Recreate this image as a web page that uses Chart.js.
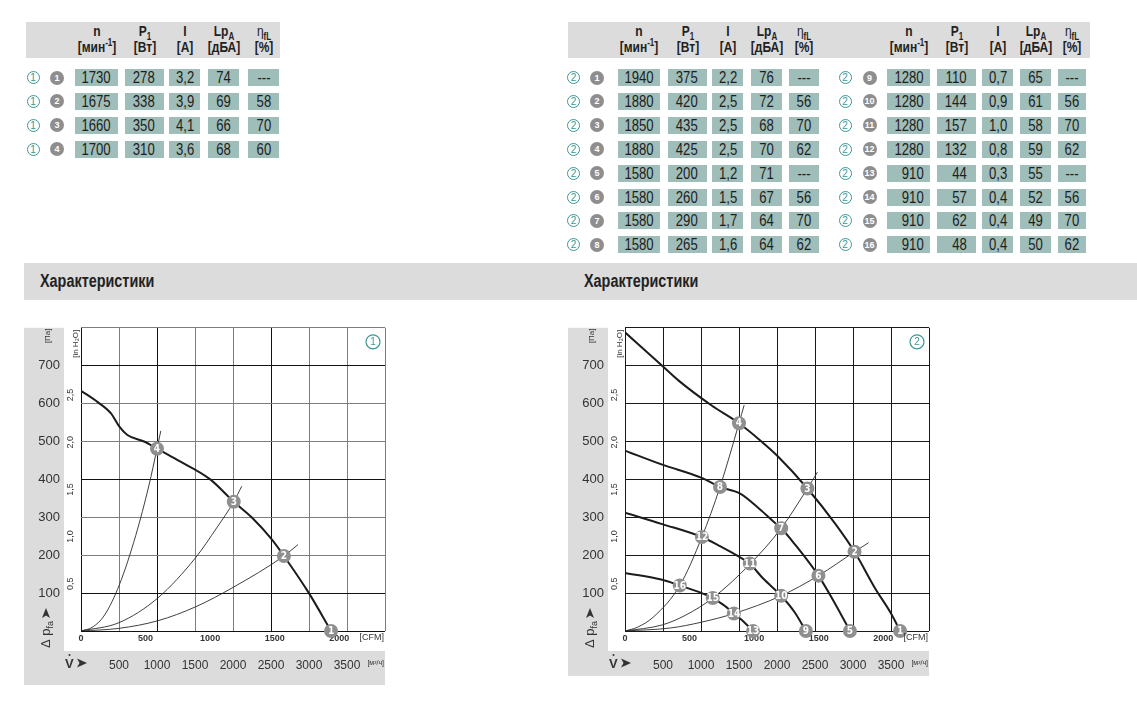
<!DOCTYPE html>
<html lang="ru">
<head>
<meta charset="UTF-8">
<title>Характеристики</title>
<style>
    body { margin: 0; background: #fff; color: #222; font-family: "Liberation Sans", Arial, sans-serif; }
    #page { position: relative; width: 1137px; height: 702px; overflow: hidden; }
    .band { position: absolute; background: #dcdcdd; }
    .hdr { position: absolute; width: 60px; text-align: center; font-weight: bold; font-size: 15px; line-height: 16px;
           transform: scaleX(0.8); transform-origin: center; }
    .hdr sub, .hdr sup { font-size: 10px; line-height: 0; }
    .hdr .eta { font-weight: normal; }
    .cell { position: absolute; height: 17px; background: #9fbdb9; font-size: 16px; line-height: 18px;
            box-sizing: border-box; text-align: right; color: #1e1e1e; }
    .cell span { display: inline-block; transform: scaleX(0.82); transform-origin: right center; }
    .cell.c span { transform-origin: center; }
    .ring { position: absolute; width: 13px; height: 13px; border: 1.3px solid #3d9994; border-radius: 50%;
            color: #3d9994; font-size: 10px; line-height: 11px; text-align: center; box-sizing: border-box; }
    .dot { position: absolute; width: 14px; height: 14px; border-radius: 50%; background: #8e8e8e; color: #fff;
           font-weight: bold; font-size: 9px; line-height: 14px; text-align: center; }
    .title { position: absolute; font-weight: bold; font-size: 18px; transform: scaleX(0.8); transform-origin: left center; }
    canvas { position: absolute; }
</style>
<script src="https://cdn.jsdelivr.net/npm/chart.js@4.4.0/dist/chart.umd.min.js"></script>
</head>
<body>
<div id="page">
    <div class="band" style="left:24px;top:263px;width:1113px;height:37px"></div>
    <div class="title" style="left:40px;top:271px">Характеристики</div>
    <div class="title" style="left:584px;top:271px">Характеристики</div>
    <canvas id="chart1" width="368" height="372" style="left:24px;top:316px"></canvas>
    <canvas id="chart2" width="368" height="372" style="left:568px;top:316px"></canvas>
</div>
<script>
    const FONT = '"DejaVu Sans Condensed", "Liberation Sans", Arial, sans-serif';
    const AXFONT = '"Liberation Sans", Arial, sans-serif';
    const PA_PER_INH2O = 249.09;
    const M3H_PER_CFM = 1.699;

    // --- tables ---
    const t1Rows = [
        ['1730', '278', '3,2', '74', '---'],
        ['1675', '338', '3,9', '69', '58'],
        ['1660', '350', '4,1', '66', '70'],
        ['1700', '310', '3,6', '68', '60']
    ];
    const t2RowsA = [
        ['1940', '375', '2,2', '76', '---'],
        ['1880', '420', '2,5', '72', '56'],
        ['1850', '435', '2,5', '68', '70'],
        ['1880', '425', '2,5', '70', '62'],
        ['1580', '200', '1,2', '71', '---'],
        ['1580', '260', '1,5', '67', '56'],
        ['1580', '290', '1,7', '64', '70'],
        ['1580', '265', '1,6', '64', '62']
    ];
    const t2RowsB = [
        ['1280', '110', '0,7', '65', '---'],
        ['1280', '144', '0,9', '61', '56'],
        ['1280', '157', '1,0', '58', '70'],
        ['1280', '132', '0,8', '59', '62'],
        ['910', '44', '0,3', '55', '---'],
        ['910', '57', '0,4', '52', '56'],
        ['910', '62', '0,4', '49', '70'],
        ['910', '48', '0,4', '50', '62']
    ];
    const headers = ['n<br>[мин<sup>-1</sup>]', 'P<sub>1</sub><br>[Вт]', 'I<br>[A]', 'Lp<sub>A</sub><br>[дБА]',
                     '<span class="eta">η</span><sub>fL</sub><br>[%]'];

    // --- chart 1 (x: m³/h, y: Pa) ---
    const c1Curve = [[0, 634], [220, 604], [395, 574], [505, 539], [610, 517], [830, 500], [1000, 481],
                     [1260, 452], [1700, 400], [2010, 341], [2245, 300], [2505, 243], [2670, 198],
                     [3005, 98], [3290, 0]];
    const c1SysA = [[0, 0], [150, 10], [310, 42], [505, 122], [720, 252], [895, 385], [1000, 481], [1050, 528]];
    const c1SysB = [[0, 0], [500, 22], [1010, 87], [1510, 194], [1785, 272], [2010, 341], [2115, 382]];
    const c1SysC = [[0, 0], [500, 7], [1010, 27], [1510, 64], [2000, 115], [2670, 198], [2855, 228]];
    const c1Points = [[3290, 0], [2670, 198], [2010, 341], [1000, 481]];

    // --- chart 2 ---
    const c2CurveA = [[0, 788], [500, 698], [710, 660], [1140, 595], [1500, 548], [1795, 500], [2010, 461],
                      [2400, 376], [2770, 282], [3020, 209], [3290, 113], [3510, 43], [3620, 0]];
    const c2CurveB = [[0, 476], [490, 439], [1010, 404], [1250, 380], [1510, 363], [1770, 322], [1990, 282],
                      [2055, 271], [2230, 230], [2545, 146], [2770, 70], [2960, 0]];
    const c2CurveC = [[0, 312], [490, 282], [1010, 248], [1250, 224], [1500, 196], [1640, 178], [1815, 139],
                      [2055, 93], [2230, 50], [2380, 0]];
    const c2CurveD = [[0, 153], [490, 135], [720, 120], [1010, 100], [1155, 87], [1295, 69], [1435, 46],
                      [1575, 22], [1685, 0]];
    const c2SysA = [[0, 0], [165, 10], [380, 38], [721, 120], [1012, 248], [1250, 380], [1500, 548], [1568, 596]];
    const c2SysB = [[0, 0], [490, 16], [800, 42], [1155, 87], [1642, 176], [2055, 271], [2400, 376], [2532, 419]];
    const c2SysC = [[0, 0], [600, 8], [1000, 23], [1433, 46], [2055, 93], [2545, 146], [3020, 209], [3205, 233]];
    const c2Points = [[3620, 0], [3020, 209], [2400, 376], [1500, 548], [2960, 0], [2545, 146], [2055, 271],
                      [1250, 380], [2380, 0], [2055, 93], [1642, 178], [1012, 248], [1685, 0], [1433, 46],
                      [1155, 87], [721, 120]];

    // axis ticks
    const m3hTicks = [0, 500, 1000, 1500, 2000, 2500, 3000, 3500, 4000];
    const paTicks = [0, 100, 200, 300, 400, 500, 600, 700, 800];
    const cfmTicks = [0, 500, 1000, 1500, 2000];
    const inH2OTicks = [0.5, 1, 1.5, 2, 2.5];

    const page = document.getElementById('page');

    function add(cls, css, html) {
        const d = document.createElement('div');
        d.className = cls;
        d.style.cssText = css;
        d.innerHTML = html;
        page.appendChild(d);
    }

    // cols: [left, width, rightPad]
    function buildTable(rows, cols, ringX, dotX, ringNo, firstNo) {
        cols.forEach((c, i) => add('hdr', `left:${c[0] + c[1] / 2 - 30}px;top:23px`, headers[i]));
        rows.forEach((r, ri) => {
            const top = 69 + ri * 23.9;
            add('ring', `left:${ringX - 6.5}px;top:${top + 2}px`, ringNo);
            add('dot', `left:${dotX - 7}px;top:${top + 1.5}px`, String(firstNo + ri));
            r.forEach((v, ci) => {
                const c = cols[ci];
                if (ci === 4) {
                    add('cell c', `left:${c[0]}px;top:${top}px;width:${c[1]}px;text-align:center`, `<span>${v}</span>`);
                } else {
                    add('cell', `left:${c[0]}px;top:${top}px;width:${c[1]}px;padding-right:${c[2]}px`, `<span>${v}</span>`);
                }
            });
        });
    }

    add('band', 'left:26px;top:22px;width:254px;height:36px', '');
    add('band', 'left:568px;top:22px;width:522px;height:36px', '');
    buildTable(t1Rows, [[75, 43, 7], [125, 39, 9], [169, 31, 6], [208, 31, 8], [248, 31, 0]], 33, 57, '1', 1);
    buildTable(t2RowsA, [[618, 42, 6], [668, 39, 9], [712, 31, 6], [751, 31, 8], [789, 30, 0]], 573.5, 597, '2', 1);
    buildTable(t2RowsB, [[887, 43, 6], [937, 39, 9], [982, 31, 6], [1020, 31, 8], [1058, 28, 0]], 845, 869.5, '2', 9);

    const toXY = arr => arr.map(p => ({ x: p[0], y: p[1] }));

    function makeChart(id, cfg) {
        const datasets = [{
            data: toXY(cfg.points),
            showLine: false,
            pointRadius: 7,
            pointBackgroundColor: '#8f8f8f',
            pointBorderColor: '#8f8f8f',
            pointBorderWidth: 0,
            clip: false
        }];
        cfg.curves.forEach(c => datasets.push({
            data: toXY(c), borderColor: '#1c1c1c', borderWidth: 2, pointRadius: 0,
            cubicInterpolationMode: 'monotone'
        }));
        cfg.systems.forEach(c => datasets.push({
            data: toXY(c), borderColor: '#2a2a2a', borderWidth: 0.9, pointRadius: 0,
            cubicInterpolationMode: 'monotone'
        }));

        const decor = {
            id: 'decor' + id,
            beforeDraw(chart) {
                const ctx = chart.ctx, a = chart.chartArea;
                ctx.save();
                ctx.fillStyle = '#dcdcdd';
                ctx.fillRect(0, a.top, 40, cfg.bandTop - a.top);
                ctx.fillRect(0, cfg.bandTop, a.right, cfg.bandH);
                ctx.restore();
            },
            afterDatasetsDraw(chart) {
                const ctx = chart.ctx;
                const meta = chart.getDatasetMeta(0);
                ctx.save();
                ctx.fillStyle = '#fff';
                ctx.font = 'bold 10px ' + FONT;
                ctx.textAlign = 'center';
                ctx.textBaseline = 'middle';
                meta.data.forEach((el, i) => ctx.fillText(String(i + 1), el.x, el.y + 0.5));
                ctx.restore();
            },
            afterDraw(chart) {
                const ctx = chart.ctx, a = chart.chartArea;
                const yIn = chart.scales.yIn;
                ctx.save();
                ctx.fillStyle = '#333';
                // in H2O tick labels
                ctx.font = '9px ' + AXFONT;
                ctx.textAlign = 'center';
                ctx.textBaseline = 'middle';
                inH2OTicks.forEach(v => {
                    ctx.save();
                    ctx.translate(a.left - 10, yIn.getPixelForValue(v));
                    ctx.rotate(-Math.PI / 2);
                    ctx.fillText(v.toFixed(1).replace('.', ','), 0, 0);
                    ctx.restore();
                });
                // unit labels rotated
                ctx.font = '8px ' + AXFONT;
                ctx.save();
                ctx.translate(a.left - 5, a.top + 16);
                ctx.rotate(-Math.PI / 2);
                ctx.fillText('[in H₂O]', 0, 0);
                ctx.restore();
                ctx.save();
                ctx.translate(24, a.top + 8);
                ctx.rotate(-Math.PI / 2);
                ctx.fillText('[Па]', 0, 0);
                ctx.restore();
                // Δ p_fa ➤
                ctx.save();
                ctx.translate(22, cfg.bandTop - 3);
                ctx.rotate(-Math.PI / 2);
                ctx.textAlign = 'left';
                ctx.textBaseline = 'alphabetic';
                ctx.font = '13px ' + AXFONT;
                ctx.fillText('Δ p', 0, 4);
                let w = ctx.measureText('Δ p').width;
                ctx.font = '9px ' + AXFONT;
                ctx.fillText('fa', w, 7);
                w += ctx.measureText('fa').width + 3;
                ctx.beginPath();
                ctx.moveTo(w, -4); ctx.lineTo(w + 10, 0); ctx.lineTo(w, 4); ctx.lineTo(w + 2.5, 0);
                ctx.closePath();
                ctx.fill();
                ctx.restore();
                // V̇ ➤
                const vy = cfg.bandTop + 12;
                ctx.font = 'bold 13px ' + AXFONT;
                ctx.textAlign = 'left';
                ctx.textBaseline = 'middle';
                ctx.fillText('V', 41, vy + 1);
                ctx.beginPath();
                ctx.arc(45.5, vy - 8, 1, 0, Math.PI * 2);
                ctx.fill();
                ctx.beginPath();
                ctx.moveTo(53, vy - 4.5); ctx.lineTo(63, vy); ctx.lineTo(53, vy + 4.5); ctx.lineTo(55.5, vy);
                ctx.closePath();
                ctx.fill();
                // units
                ctx.font = '9px ' + AXFONT;
                ctx.textAlign = 'right';
                ctx.fillText('[CFM]', a.right - 1, a.bottom + 7);
                ctx.font = '7px ' + AXFONT;
                ctx.fillText('[м³/ч]', a.right - 1, vy);
                // panel number
                ctx.strokeStyle = '#3d9994';
                ctx.fillStyle = '#3d9994';
                ctx.lineWidth = 1.2;
                ctx.beginPath();
                ctx.arc(a.right - 12, a.top + 14, 7, 0, Math.PI * 2);
                ctx.stroke();
                ctx.font = '10px ' + AXFONT;
                ctx.textAlign = 'center';
                ctx.fillText(cfg.panel, a.right - 12, a.top + 14.5);
                ctx.restore();
            }
        };

        return new Chart(document.getElementById(id), {
            type: 'line',
            data: { datasets },
            plugins: [decor],
            options: {
                responsive: false,
                animation: false,
                layout: { padding: { top: 8, right: 4, bottom: 0, left: 0 } },
                plugins: { legend: { display: false }, tooltip: { enabled: false } },
                scales: {
                    x: {
                        type: 'linear', position: 'bottom', min: 0, max: 4000, weight: 2,
                        afterBuildTicks: s => { s.ticks = m3hTicks.map(v => ({ value: v })); },
                        afterFit: s => { s.height = 36; },
                        ticks: {
                            callback: v => (v > 0 && v < 4000) ? String(v) : '',
                            font: { family: AXFONT, size: 12 }, color: '#333', padding: 6, maxRotation: 0
                        },
                        grid: { color: c => cfg.gridX(c.tick.value), lineWidth: 1, drawTicks: false },
                        border: { display: false }
                    },
                    xCfm: {
                        type: 'linear', position: 'bottom', min: 0, max: 4000 / M3H_PER_CFM, weight: 1,
                        afterBuildTicks: s => { s.ticks = cfmTicks.map(v => ({ value: v })); },
                        afterFit: s => { s.height = 21; },
                        ticks: {
                            callback: v => String(v),
                            font: { family: AXFONT, size: 9, weight: 'bold' }, color: '#333', padding: 2, maxRotation: 0
                        },
                        grid: { display: false, drawTicks: false },
                        border: { display: false }
                    },
                    y: {
                        type: 'linear', position: 'left', min: 0, max: 800, weight: 2,
                        afterBuildTicks: s => { s.ticks = paTicks.map(v => ({ value: v })); },
                        afterFit: s => { s.width = 40; },
                        ticks: {
                            callback: v => (v > 0 && v < 800) ? String(v) : '',
                            font: { family: AXFONT, size: 13 }, color: '#333', padding: 4
                        },
                        grid: { color: c => cfg.gridY(c.tick.value), lineWidth: 1, drawTicks: false },
                        border: { display: false }
                    },
                    yIn: {
                        type: 'linear', position: 'left', min: 0, max: 800 / PA_PER_INH2O, weight: 1,
                        afterFit: s => { s.width = 17; },
                        ticks: { display: false },
                        grid: { display: false, drawTicks: false },
                        border: { display: false }
                    }
                }
            }
        });
    }

    const c1DarkX = [0, 1000, 2500];
    const c1DarkY = [0, 100, 400, 700];

    makeChart('chart1', {
        curves: [c1Curve],
        systems: [c1SysA, c1SysB, c1SysC],
        points: c1Points,
        panel: '1',
        bandTop: 335, bandH: 34,
        gridX: v => c1DarkX.includes(v) ? '#111' : '#7d7d7d',
        gridY: v => c1DarkY.includes(v) ? '#111' : '#7d7d7d'
    });

    makeChart('chart2', {
        curves: [c2CurveA, c2CurveB, c2CurveC, c2CurveD],
        systems: [c2SysA, c2SysB, c2SysC],
        points: c2Points,
        panel: '2',
        bandTop: 335, bandH: 25,
        gridX: v => '#1a1a1a',
        gridY: v => '#1a1a1a'
    });
</script>
</body>
</html>
